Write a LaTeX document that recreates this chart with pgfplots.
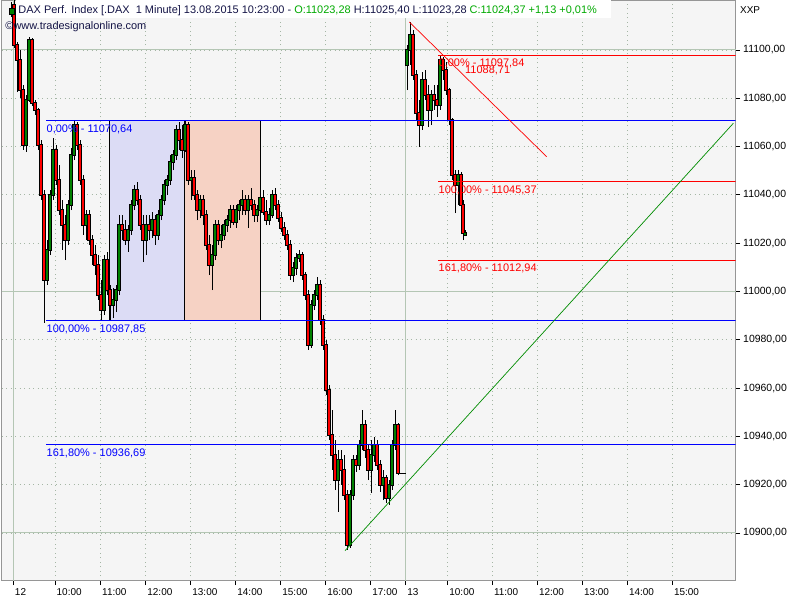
\documentclass[border=0pt]{standalone}
\usepackage{pgfplots}
\pgfplotsset{compat=1.18}
\usepackage{pgfplotstable}
\usepackage{fontspec}
\setmainfont{Liberation Sans}

\definecolor{plotbg}{RGB}{245,245,245}
\definecolor{dotgrid}{RGB}{165,182,165}
\definecolor{sepgrid}{RGB}{180,198,180}
\definecolor{bordergray}{RGB}{150,150,150}
\definecolor{fibblue}{RGB}{0,0,255}
\definecolor{fibred}{RGB}{255,0,0}
\definecolor{lav}{RGB}{220,220,245}
\definecolor{salmon}{RGB}{246,210,196}
\definecolor{candred}{RGB}{255,0,0}
\definecolor{candgreen}{RGB}{0,128,0}
\definecolor{hdrtext}{RGB}{20,20,70}
\definecolor{hdrgreen}{RGB}{0,170,0}
\definecolor{trendgreen}{RGB}{0,140,0}

% x = chart position (time axis, 1 unit ~ 1.33 min), o h l c = DAX price
\pgfplotstableread{
x o h l c
14 11118.6 11120.7 11100.8 11102.1
17 11102.1 11103.3 11082.6 11095.9
20 11095.9 11100.0 11080.1 11083.4
23 11083.4 11085.5 11058.6 11060.7
26 11060.7 11081.4 11057.8 11079.3
29 11079.3 11105.4 11078.5 11104.1
32 11104.1 11105.0 11076.8 11078.1
35 11078.1 11079.3 11073.1 11075.2
38 11075.2 11076.0 11058.6 11060.7
41 11060.7 11062.7 11037.9 11040.0
44 11040.0 11042.0 10987.0 11004.8
47 11004.8 11021.3 11002.7 11017.2
50 11017.2 11042.0 11015.1 11040.0
53 11040.0 11063.6 11037.9 11058.6
56 11058.6 11060.7 11044.1 11046.2
59 11046.2 11052.4 11031.7 11033.7
62 11033.7 11037.9 11017.2 11027.5
65 11027.5 11031.7 11013.0 11021.3
68 11021.3 11037.9 11019.3 11035.8
71 11035.8 11059.4 11033.7 11056.5
74 11056.5 11070.6 11054.4 11068.9
77 11068.9 11070.0 11058.6 11060.7
80 11060.7 11062.7 11044.1 11046.2
83 11046.2 11048.2 11023.4 11027.5
86 11027.5 11033.7 11021.3 11031.7
89 11031.7 11033.7 11019.3 11021.3
92 11021.3 11023.4 11011.0 11015.1
95 11015.1 11019.3 11006.8 11011.0
98 11011.0 11015.1 10996.5 10998.5
101 10998.5 11004.8 10988.2 10992.3
104 10992.3 11015.1 10990.3 11013.0
107 11013.0 11016.4 10998.5 11000.6
110 11000.6 11002.7 10987.85 10994.4
113 10994.4 11001.4 10989.0 10996.5
116 10996.5 11002.7 10991.5 11000.6
119 11000.6 11031.7 10998.5 11027.5
122 11027.5 11031.7 11021.3 11025.5
125 11025.5 11029.6 11019.3 11021.3
128 11021.3 11027.5 11016.4 11025.5
131 11025.5 11037.9 11023.4 11035.8
134 11035.8 11044.1 11033.7 11042.0
137 11042.0 11045.4 11035.8 11037.9
140 11037.9 11040.0 11025.5 11027.5
143 11027.5 11031.7 11012.2 11021.3
146 11021.3 11031.7 11015.1 11027.5
149 11027.5 11031.7 11021.3 11025.5
152 11025.5 11032.9 11022.1 11029.6
155 11029.6 11031.7 11019.3 11023.4
158 11023.4 11033.7 11021.3 11031.7
161 11031.7 11040.0 11029.6 11037.9
164 11037.9 11046.2 11035.8 11044.1
167 11044.1 11048.2 11040.0 11046.2
170 11046.2 11056.5 11044.1 11053.6
173 11053.6 11058.6 11050.3 11056.5
176 11056.5 11068.9 11054.4 11066.9
179 11066.9 11070.0 11058.6 11062.7
182 11062.7 11068.9 11055.3 11058.6
185 11058.6 11070.64 11057.8 11068.9
188 11068.9 11070.2 11044.1 11046.2
191 11046.2 11050.3 11037.9 11047.0
194 11047.0 11050.3 11037.9 11040.0
197 11040.0 11042.0 11029.6 11033.7
200 11033.7 11040.0 11030.4 11037.9
203 11037.9 11040.0 11027.5 11031.7
206 11031.7 11033.7 11017.2 11019.3
209 11019.3 11023.4 11006.8 11011.0
212 11011.0 11019.3 11000.6 11015.1
215 11015.1 11029.6 11013.0 11027.5
218 11027.5 11029.6 11019.3 11021.3
221 11021.3 11027.5 11018.0 11023.4
224 11023.4 11029.6 11021.3 11027.5
227 11027.5 11031.7 11024.6 11029.6
230 11029.6 11035.8 11026.3 11033.7
233 11033.7 11035.8 11027.5 11028.8
236 11028.8 11035.8 11026.3 11033.7
239 11033.7 11037.9 11029.6 11035.8
242 11035.8 11042.0 11031.7 11037.9
245 11037.9 11040.0 11031.7 11033.7
248 11033.7 11040.0 11026.3 11037.9
251 11037.9 11042.9 11033.7 11035.8
254 11035.8 11037.9 11028.8 11031.7
257 11031.7 11035.8 11028.8 11033.7
260 11033.7 11041.2 11031.7 11038.7
263 11038.7 11042.0 11031.7 11032.9
266 11032.9 11037.9 11027.5 11029.6
269 11029.6 11034.6 11027.5 11031.7
272 11031.7 11042.0 11030.4 11040.0
275 11040.0 11042.9 11033.7 11035.8
278 11035.8 11037.9 11028.8 11030.4
281 11030.4 11032.9 11024.6 11026.3
284 11026.3 11028.8 11021.3 11023.4
287 11023.4 11025.5 11017.2 11019.3
290 11019.3 11021.3 11004.8 11006.8
293 11006.8 11012.2 11003.9 11009.7
296 11009.7 11015.9 11006.8 11013.9
299 11013.9 11017.2 11012.2 11015.1
302 11015.1 11016.4 11004.8 11006.8
305 11006.8 11008.1 10996.5 10998.5
308 10998.5 11000.6 10975.8 10977.8
311 10977.8 10996.5 10976.6 10994.4
314 10994.4 11000.6 10992.3 10998.5
317 10998.5 11006.0 10996.5 11002.7
320 11002.7 11004.8 10986.2 10988.2
323 10988.2 10990.3 10975.8 10977.8
326 10977.8 10979.9 10957.1 10959.2
329 10959.2 10961.3 10938.5 10940.6
332 10940.6 10950.9 10926.1 10932.3
335 10932.3 10938.5 10917.8 10921.9
338 10921.9 10934.4 10908.7 10930.2
341 10930.2 10934.4 10919.9 10926.1
344 10926.1 10932.3 10913.7 10915.7
347 10915.7 10917.8 10893.0 10895.0
350 10895.0 10917.8 10893.8 10915.7
353 10915.7 10932.3 10913.7 10930.2
356 10930.2 10932.3 10925.3 10928.2
359 10928.2 10938.5 10926.1 10936.4
362 10936.4 10950.9 10934.4 10944.7
365 10944.7 10946.8 10931.1 10934.4
368 10934.4 10936.4 10921.9 10926.1
371 10926.1 10938.5 10916.6 10932.3
374 10932.3 10939.7 10929.4 10936.4
377 10936.4 10938.5 10926.1 10928.2
380 10928.2 10930.2 10917.0 10919.9
383 10919.9 10926.1 10913.7 10922.8
386 10922.8 10924.0 10912.4 10914.5
389 10914.5 10921.9 10911.6 10919.9
392 10919.9 10938.5 10917.8 10936.4
395 10936.4 10950.9 10934.4 10944.7
398 10944.7 10945.5 10924.0 10924.8
407 11093.8 11102.1 11083.4 11100.0
410 11100.0 11111.6 11093.8 11106.2
413 11106.2 11108.3 11087.6 11089.6
416 11089.6 11091.7 11071.0 11073.9
419 11073.9 11079.3 11059.8 11068.9
422 11068.9 11090.9 11066.9 11087.6
425 11087.6 11091.7 11079.3 11081.4
428 11081.4 11085.5 11068.1 11075.2
431 11075.2 11083.4 11068.9 11081.4
434 11081.4 11085.5 11075.2 11079.3
437 11079.3 11085.5 11072.3 11077.2
440 11077.2 11097.84 11075.2 11095.9
443 11095.9 11097.0 11087.6 11091.7
446 11091.7 11095.0 11081.4 11083.4
449 11083.4 11084.3 11068.9 11071.0
452 11071.0 11071.8 11046.2 11048.2
455 11048.2 11050.3 11032.5 11044.1
458 11044.1 11050.3 11035.8 11048.2
461 11048.2 11049.5 11032.9 11035.8
463 11035.8 11037.9 11021.3 11024.2
465 11023.28 11025.40 11023.28 11024.37
}\candles

\begin{document}
\begin{tikzpicture}[x=1bp,y=1bp]
\path[use as bounding box] (0,0) rectangle (800,-600);
\fill[white] (0,0) rectangle (800,-600);
\begin{axis}[
  at={(1.7bp,0bp)}, anchor=north west,
  scale only axis, width=733.8bp, height=580.7bp,
  xmin=1.7, xmax=735.5, ymin=10880.24, ymax=11120.7,
  axis background/.style={fill=plotbg},
  axis line style={bordergray, line width=0.8bp},
  xtick pos=bottom, ytick pos=right, yticklabel pos=right,
  tick align=outside, major tick length=4.5bp,
  tick style={black, line width=0.8bp},
  scaled x ticks=false, scaled y ticks=false,
  xtick={13.3,55,100.5,145.7,190.7,235.7,280.7,325.7,370.7,405.7,447.7,492.3,537.3,582.3,627.3,672.3},
  xticklabels={12,10:00,11:00,12:00,13:00,14:00,15:00,16:00,17:00,13,10:00,11:00,12:00,13:00,14:00,15:00},
  xticklabel style={font=\fontsize{10}{12}\selectfont, anchor=north west, inner sep=0pt, xshift=1.5bp, yshift=-3bp},
  ytick={10900,10920,...,11100},
  yticklabel={\pgfmathprintnumber[fixed, fixed zerofill, precision=2, use comma, 1000 sep={}, assume math mode=true]{\tick}},
  yticklabel style={font=\fontsize{10.5}{12}\selectfont, anchor=west, inner sep=0pt, xshift=3bp},
  grid=major,
  major grid style={dotgrid, line width=0.9bp, dash pattern=on 0.9bp off 3.6bp},
  extra x ticks={13.3,405.7}, extra x tick labels={},
  extra x tick style={grid=major, major grid style={solid, sepgrid, line width=1bp}, major tick length=0pt},
  extra y ticks={10900,11000,11100}, extra y tick labels={},
  extra y tick style={grid=major, major grid style={solid, sepgrid, line width=1bp}, major tick length=0pt},
]
% retracement boxes
\addplot[fill=lav, draw=black, line width=0.8bp] coordinates {(109.3,10987.85) (184.3,10987.85) (184.3,11070.64) (109.3,11070.64) (109.3,10987.85)};
\addplot[fill=salmon, draw=black, line width=0.8bp] coordinates {(184.3,10987.85) (260.3,10987.85) (260.3,11070.64) (184.3,11070.64) (184.3,10987.85)};

% wicks
\addplot[draw=none, mark=none, error bars/.cd, y dir=plus, y explicit, error mark=none,
  error bar style={draw=black, solid, line width=0.8bp}]
  table[x=x, y=l, y error plus expr=\thisrow{h}-\thisrow{l}] {\candles};
% body outlines
\addplot[draw=none, mark=none, error bars/.cd, y dir=plus, y explicit, error mark=none,
  error bar style={draw=black, solid, line width=3.2bp}]
  table[x=x, y expr={min(\thisrow{o},\thisrow{c})-0.35}, y error plus expr={abs(\thisrow{c}-\thisrow{o})+0.7}] {\candles};
% red bodies
\addplot[draw=none, mark=none, unbounded coords=discard, restrict expr to domain={\thisrow{o}-\thisrow{c}}{0.0001:1000},
  error bars/.cd, y dir=plus, y explicit, error mark=none, error bar style={draw=candred, solid, line width=1.5bp}]
  table[x=x, y=c, y error plus expr=\thisrow{o}-\thisrow{c}] {\candles};
% green bodies
\addplot[draw=none, mark=none, unbounded coords=discard, restrict expr to domain={\thisrow{c}-\thisrow{o}}{0.0001:1000},
  error bars/.cd, y dir=plus, y explicit, error mark=none, error bar style={draw=candgreen, solid, line width=1.5bp}]
  table[x=x, y=o, y error plus expr=\thisrow{c}-\thisrow{o}] {\candles};
% close extension of day 12
\addplot[black, line width=0.8bp] coordinates {(398,10924.8) (406,10924.8)};

% blue Fibonacci levels
\addplot[fibblue, line width=1bp] coordinates {(46,11070.64) (735.5,11070.64)};
\addplot[fibblue, line width=1bp] coordinates {(46,10987.85) (735.5,10987.85)};
\addplot[fibblue, line width=1bp] coordinates {(46,10936.69) (735.5,10936.69)};
% red Fibonacci levels
\addplot[fibred, line width=1bp] coordinates {(438.3,11097.84) (735.5,11097.84)};
\addplot[fibred, line width=1bp] coordinates {(438.3,11045.37) (735.5,11045.37)};
\addplot[fibred, line width=1bp] coordinates {(438.3,11012.94) (735.5,11012.94)};
% trend lines
\addplot[fibred, line width=0.7bp] coordinates {(409.3,11111.6) (546.7,11055.8)};
\addplot[trendgreen, line width=0.7bp] coordinates {(345,10892.67) (733.3,11069.64)};

\begin{scope}[every node/.style={anchor=west, inner sep=0pt, font=\fontsize{11}{13}\selectfont}]
\node[fibblue, yshift=-8.5bp] at (axis cs:46.5,11070.64) {0,00\% - 11070,64};
\node[fibblue, yshift=-8.5bp] at (axis cs:46.5,10987.85) {100,00\% - 10987,85};
\node[fibblue, yshift=-8.5bp] at (axis cs:46.5,10936.69) {161,80\% - 10936,69};
\node[fibred, yshift=-8.5bp] at (axis cs:438.5,11097.84) {0,00\% - 11097,84};
\node[fibred] at (axis cs:465,11091.7) {11088,71};
\node[fibred, yshift=-8.5bp] at (axis cs:438.5,11045.37) {100,00\% - 11045,37};
\node[fibred, yshift=-8.5bp] at (axis cs:438.5,11012.94) {161,80\% - 11012,94};
\end{scope}
\end{axis}

% header
\fill[white] (16,0) rectangle (611,-18.5);
\draw[black, line width=0.9bp] (11.8,-2) -- (11.8,-17);
\filldraw[fill=candgreen, draw=black, line width=0.8bp] (9,-8.5) rectangle (14.5,-14.5);
\node[anchor=west, inner sep=0pt, font=\fontsize{11}{13}\selectfont] at (18.3,-11) {\textcolor{hdrtext}{DAX Perf. Index [.DAX\ \ 1 Minute] 13.08.2015 10:23:00 -} \textcolor{hdrgreen}{O:11023,28} \textcolor{hdrtext}{H:11025,40 L:11023,28} \textcolor{hdrgreen}{C:11024,37 +1,13 +0,01\%}};
\node[anchor=west, inner sep=0pt, font=\fontsize{11}{13}\selectfont, text=hdrtext] at (5.3,-26.7) {©www.tradesignalonline.com};
\node[anchor=west, inner sep=0pt, font=\fontsize{10}{12}\selectfont] at (740,-9.6) {XXP};
\end{tikzpicture}
\end{document}
